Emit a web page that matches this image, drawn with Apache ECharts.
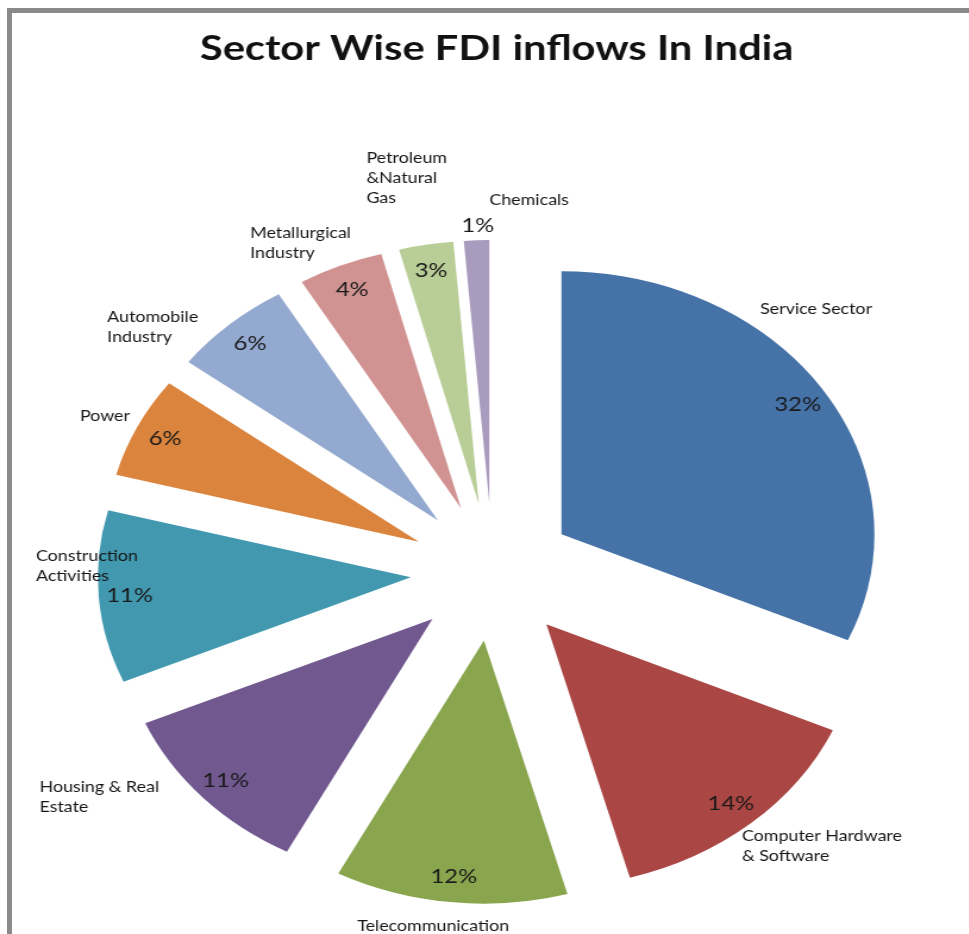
<!DOCTYPE html>
<html>
<head>
<meta charset="utf-8">
<script src="https://cdn.jsdelivr.net/npm/echarts@6/dist/echarts.min.js"></script>
<style>
html, body { margin: 0; padding: 0; overflow: hidden; }
/* grey frame of the original sheet, drawn as page background */
html {
  background:
    linear-gradient(#8a8a8a, #8a8a8a) 7px 8px / 962px 5px no-repeat,
    linear-gradient(#8a8a8a, #8a8a8a) 7px 8px / 5px 926px no-repeat,
    #fff;
}
/* the source picture is stretched sideways, so the chart is drawn narrow and widened */
#pie { position: absolute; left: 0; top: 0; width: 814px; height: 934px;
  transform: scaleX(1.19); transform-origin: 0 0; }
</style>
</head>
<body>
<div id="pie"></div>
<script>
let sectors = ['Service Sector', 'Computer Hardware\n& Software', 'Telecommunication',
    'Housing & Real\nEstate', 'Construction\nActivities', 'Power', 'Automobile\nIndustry',
    'Metallurgical\nIndustry', 'Petroleum\n&Natural\nGas', 'Chemicals'];
// shares; the labels show them rounded
let shares = [31.6, 14.1, 12.0, 10.8, 10.6, 6.2, 6.2, 4.4, 2.8, 1.3];
let colors = ['#4572a7', '#aa4643', '#89a54e', '#71588f', '#4198af',
    '#db843d', '#93a9cf', '#d19392', '#b9cd96', '#a99bbd'];

// small hand nudges so the name labels sit where Excel put them
let nameNudge = [[-65, -77], [-18, 17], [55, 16], [-26, -6], [46, -31],
    [6, -7], [-16, 9], [17, -15], [24, -59], [83, -32]];

let myChart = echarts.init(document.getElementById('pie'));

let sliceData = sectors.map(function (s, i) {
    return { name: s, value: shares[i], selected: true, itemStyle: { color: colors[i] } };
});
let ringData = sectors.map(function (s, i) {
    return { name: s, value: shares[i], selected: true };
});

let center = [414, 572];
let r = 263;
let offset = 69;

option = {
    animation: false,
    title: {
        text: 'Sector Wise FDI inflows In India',
        left: 163,
        top: 26,
        textStyle: {
            fontFamily: 'Lato',
            fontSize: 35,
            fontWeight: 'bold',
            color: '#111'
        }
    },
    series: [{
        type: 'pie',
        center: center,
        radius: r,
        selectedMode: 'multiple',
        selectedOffset: offset,
        avoidLabelOverlap: false,
        labelLayout: function (p) {
            return { hideOverlap: false, dx: nameNudge[p.dataIndex][0], dy: nameNudge[p.dataIndex][1] };
        },
        label: {
            position: 'outside',
            formatter: function (p) {
                return p.name.split('\n').map(function (t) { return '{n|' + t + '}'; }).join('\n');
            },
            rich: {
                n: {
                    align: 'left',
                    fontFamily: 'Lato',
                    fontSize: 15,
                    color: '#161616',
                    lineHeight: 20
                }
            }
        },
        labelLine: { show: false, length: 8, length2: 0 },
        itemStyle: { borderWidth: 0 },
        data: sliceData
    }, {
        type: 'pie',
        center: center,
        radius: [r * 0.78, r],
        selectedMode: 'multiple',
        selectedOffset: offset,
        silent: true,
        labelLayout: function (p) {
            // the 1% label sits above its thin slice
            return p.dataIndex === 9 ? { dy: -41 } : {};
        },
        label: {
            position: 'inside',
            formatter: function (p) { return Math.round(p.value) + '%'; },
            fontFamily: 'Lato',
            fontSize: 20,
            color: '#1a1a1a'
        },
        labelLine: { show: false },
        itemStyle: { color: 'rgba(0,0,0,0)', borderWidth: 0 },
        data: ringData
    }]
};

myChart.setOption(option);
</script>
</body>
</html>
